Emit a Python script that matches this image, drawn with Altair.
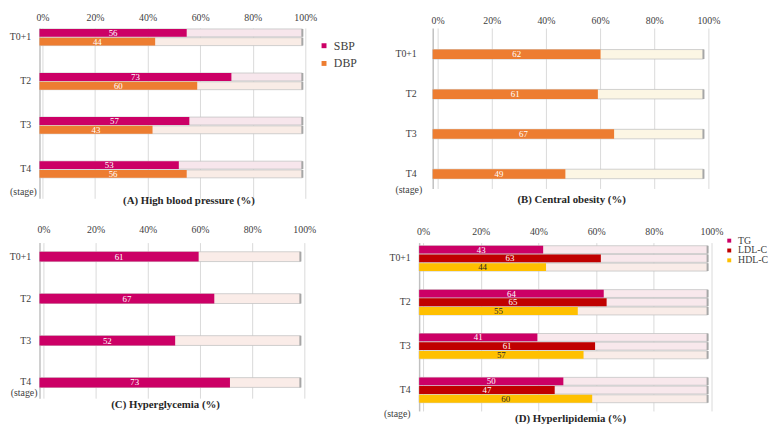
import altair as alt
import pandas as pd

# ---------------- data ----------------
stages = ["T0+1", "T2", "T3", "T4"]
ticks = [0, 20, 40, 60, 80, 100]

bp_series = ["SBP", "DBP"]
sbp = [56, 73, 57, 53]
dbp = [44, 60, 43, 56]

obesity_series = ["Central obesity"]
central_obesity = [62, 61, 67, 49]

glyc_series = ["Hyperglycemia"]
hyperglycemia = [61, 67, 52, 73]

lipid_series = ["TG", "LDL-C", "HDL-C"]
tg = [43, 64, 41, 50]
ldl_c = [63, 65, 61, 47]
hdl_c = [44, 55, 57, 60]

# ---------------- style ----------------
FONT = "Liberation Serif"
PINK = "#CC0066"
ORANGE = "#ED7D31"
DARKRED = "#C00000"
GOLD = "#FFC000"
TXT = "#404040"


def build_panel(names, values, colors, rem_colors, label_colors, width, height,
                band, off_pad, x_pad, tick_off, y_pad, stage_xy, title,
                title_offset, title_dx, legend):
    rows = []
    for name, vals, rc, lc in zip(names, values, rem_colors, label_colors):
        for st, v in zip(stages, vals):
            rows.append({"stage": st, "series": name, "value": v, "full": 100,
                         "mid": v / 2, "rem": rc, "lab": lc})
    df = pd.DataFrame(rows)
    base = alt.Chart(df)

    x_scale = alt.Scale(domain=[0, 100], nice=False)
    x_axis = alt.Axis(orient="top", values=ticks, labelExpr="datum.value + '%'",
                      grid=True, gridColor="#d9d9d9", gridWidth=1, ticks=False,
                      tickSize=0, domain=False, tickOffset=tick_off, labelFlush=False,
                      labelPadding=x_pad, labelFont=FONT, labelFontSize=10,
                      labelColor=TXT, title=None)
    y = alt.Y("stage:N", sort=stages,
              scale=alt.Scale(paddingInner=band[0], paddingOuter=band[1], align=band[2]),
              axis=alt.Axis(orient="left", ticks=False, tickSize=0, domain=True,
                            domainColor="#c0c0c0", domainWidth=1.5,
                            labelPadding=y_pad, labelFont=FONT, labelFontSize=10,
                            labelColor=TXT, title="(stage)", titleAngle=0,
                            titleX=stage_xy[0], titleY=stage_xy[1], titleAlign="left",
                            titleBaseline="middle", titleFont=FONT, titleFontSize=10,
                            titleFontWeight="normal", titleColor=TXT))
    yo = alt.YOffset("series:N", sort=names,
                     scale=alt.Scale(paddingInner=off_pad, paddingOuter=0))

    bg = base.mark_bar(stroke="#c4c4c4", strokeWidth=0.8).encode(
        x=alt.X("full:Q", scale=x_scale, axis=x_axis), y=y, yOffset=yo,
        fill=alt.Fill("rem:N", scale=None))
    cap = base.mark_bar(stroke="#a6a6a6", strokeWidth=2).encode(
        x=alt.X("full:Q", scale=x_scale, axis=x_axis), x2=alt.X2("full:Q"),
        y=y, yOffset=yo)
    val = base.mark_bar().encode(
        x=alt.X("value:Q", scale=x_scale, axis=x_axis), y=y, yOffset=yo,
        color=alt.Color("series:N", scale=alt.Scale(domain=names, range=colors),
                        legend=legend))
    txt = base.mark_text(font=FONT, fontSize=9, baseline="middle").encode(
        x=alt.X("mid:Q", scale=x_scale, axis=x_axis), y=y, yOffset=yo,
        text=alt.Text("value:Q"), fill=alt.Fill("lab:N", scale=None))

    return alt.layer(bg, cap, val, txt).properties(
        width=width, height=height,
        title=alt.TitleParams(title, orient="bottom", frame="group", anchor="middle",
                              font=FONT, fontSize=11, fontWeight="bold", color="#262626",
                              offset=title_offset, dx=title_dx))


legend_a = alt.Legend(orient="none", legendX=283, legendY=12, title=None,
                      symbolType="square", symbolSize=25, symbolStrokeWidth=0,
                      labelFont=FONT, labelFontSize=12, labelColor=TXT, rowPadding=6)
legend_d = alt.Legend(orient="none", legendX=310, legendY=-7, title=None,
                      symbolType="square", symbolSize=16, symbolStrokeWidth=0,
                      labelFont=FONT, labelFontSize=10, labelColor=TXT, rowPadding=-2)

panel_a = build_panel(bp_series, [sbp, dbp], [PINK, ORANGE], ["#f7e6ec", "#f9ece6"],
                      ["#ffffff", "#ffffff"], 267, 173, (0.622, 0.243, 0.044), 0.1,
                      6, 3, 9, (-30.4, 166.5), "(A) High blood pressure (%)",
                      -3, 18.3, legend_a)
panel_b = build_panel(obesity_series, [central_obesity], [ORANGE], ["#fcf6e4"],
                      ["#ffffff"], 275, 163, (0.762, 0.393, 0.688), 0.1,
                      3, 5, 16.7, (-38.3, 164), "(B) Central obesity (%)",
                      0, 3.6, None)
panel_c = build_panel(glyc_series, [hyperglycemia], [PINK], ["#faece8"],
                      ["#ffffff"], 265, 158, (0.767, 0.2375, 0.46), 0.1,
                      8, 4, 9, (-29.7, 152.8), "(C) Hyperglycemia (%)",
                      1, -4.4, None)
panel_d = build_panel(lipid_series, [tg, ldl_c, hdl_c], [PINK, DARKRED, GOLD],
                      ["#f8e8ec", "#f8e8ec", "#f9ece8"],
                      ["#ffffff", "#ffffff", "#262626"], 293, 171,
                      (0.4234, 0.13, 0.275), 0.1, 6, 4, 9, (-36.3, 173.7),
                      "(D) Hyperlipidemia (%)", -5.5, 7.4, legend_d)

res = dict(x="independent", y="independent", yOffset="independent", color="independent")

row1 = alt.hconcat(panel_a, panel_b, spacing=132.4, bounds="flush").resolve_scale(**res)
row2 = alt.hconcat(panel_c, panel_d, spacing=120.6, bounds="flush").resolve_scale(**res)

chart = alt.vconcat(row1, row2, spacing=17).resolve_scale(**res).properties(
    padding=0, background="white"
).configure_view(stroke="transparent")

chart.save("out.html", embed_options={"renderer": "svg", "actions": False})
